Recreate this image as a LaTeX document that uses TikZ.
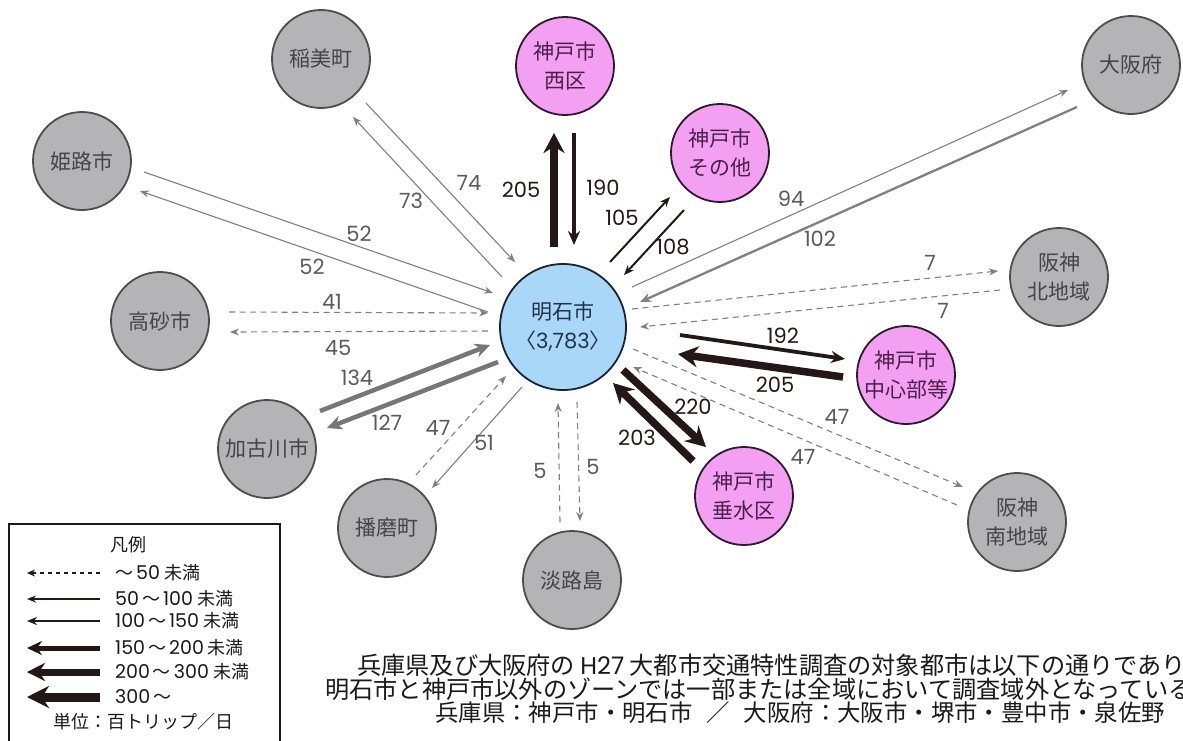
\documentclass[tikz,border=0pt]{standalone}
\usepackage{fontspec}
\setmainfont{Noto Sans CJK JP}
\newfontfamily\nf{Poppins}
\newcommand\nn[1]{{\nf #1}}
\usetikzlibrary{arrows.meta}
\definecolor{gfill}{HTML}{B4B4B6}
\definecolor{gline}{HTML}{4D4D4D}
\definecolor{gtext}{HTML}{454545}
\definecolor{pfill}{HTML}{F4A0F2}
\definecolor{pline}{HTML}{2E1A2E}
\definecolor{ptext}{HTML}{4A1F4A}
\definecolor{bfill}{HTML}{A9D7F7}
\definecolor{bline}{HTML}{1C2233}
\definecolor{btext}{HTML}{22324A}
\definecolor{arrg}{HTML}{808080}
\definecolor{arrb}{HTML}{231815}
\definecolor{lblg}{HTML}{5A5A5A}
\definecolor{txt}{HTML}{1A1A1A}
\tikzset{
  zone/.style={circle, draw, line width=1.8pt, minimum size=98pt, inner sep=0pt, align=center, font=\fontsize{21}{29}\selectfont},
  gz/.style={zone, fill=gfill, draw=gline, text=gtext},
  pz/.style={zone, fill=pfill, draw=pline, text=ptext},
  cz/.style={zone, fill=bfill, draw=bline, text=btext, minimum size=126pt},
  ga/.style={draw=arrg, line width=1.1pt, -{Stealth[length=9pt,width=7pt]}},
  da/.style={ga, dash pattern=on 6pt off 4.5pt},
  ma/.style={draw=arrg, line width=2.3pt, -{Stealth[length=11pt,width=9pt]}},
  ta/.style={draw=arrg!92!black, line width=4.5pt, -{Stealth[length=15pt,width=14pt]}},
  ba/.style={draw=arrb, line width=2pt, -{Stealth[length=10pt,width=8pt]}},
  bb/.style={draw=arrb, line width=3.8pt, -{Stealth[length=14pt,width=12pt]}},
  bc/.style={draw=arrb, line width=7.5pt, -{Stealth[length=20pt,width=21pt]}},
  lg/.style={font=\nf\fontsize{21}{21}\selectfont, text=lblg, inner sep=0pt},
  lb/.style={lg, text=arrb},
  legtxt/.style={anchor=west, font=\fontsize{18}{18}\selectfont, text=txt, inner sep=0pt},
  note/.style={anchor=west, font=\fontsize{24.2}{25}\selectfont, text=txt, inner sep=0pt},
}
\newcommand\legnum[1]{{\nf\fontsize{19}{19}\selectfont #1}}
\begin{document}
\begin{tikzpicture}[x=1pt,y=-1pt]
\path[use as bounding box] (0,0) rectangle (1183,740);
\clip (0,0) rectangle (1183,740);
\fill[white] (0,0) rectangle (1183,740);
% zones
\node[cz] (akashi) at (563,327) {明石市\\〈\nn{3,783}〉};
\node[gz] (inami) at (321,59) {稲美町};
\node[gz] (himeji) at (82,161) {姫路市};
\node[gz] (takasago) at (160,321) {高砂市};
\node[gz] (kakogawa) at (267,449) {加古川市};
\node[gz] (harima) at (387,528) {播磨町};
\node[gz] (awaji) at (572,580) {淡路島};
\node[pz] (nishi) at (565,66) {神戸市\\西区};
\node[pz] (sonota) at (720,153) {神戸市\\その他};
\node[gz] (osaka) at (1131,65) {大阪府};
\node[gz] (hkita) at (1059,277) {阪神\\北地域};
\node[pz] (chushin) at (906,375) {神戸市\\中心部等};
\node[pz] (tarumi) at (744,496) {神戸市\\垂水区};
\node[gz] (hminami) at (1017,522) {阪神\\南地域};
% endpoints
\coordinate (a1) at (366,103); \coordinate (a2) at (515,262);
\coordinate (b1) at (502,277); \coordinate (b2) at (353,117);
\coordinate (c1) at (144,172); \coordinate (c2) at (493,293);
\coordinate (d1) at (488,312); \coordinate (d2) at (140,191);
\coordinate (e1) at (229,312); \coordinate (e2) at (488,313);
\coordinate (f1) at (488,331); \coordinate (f2) at (230,332);
\coordinate (g1) at (320,411); \coordinate (g2) at (490,345);
\coordinate (h1) at (498,362); \coordinate (h2) at (327,428);
\coordinate (i1) at (416,475); \coordinate (i2) at (506,376);
\coordinate (j1) at (522,387); \coordinate (j2) at (432,488);
\coordinate (k1) at (560,522); \coordinate (k2) at (558,403);
\coordinate (l1) at (577,402); \coordinate (l2) at (580,521);
\coordinate (m1) at (554,247); \coordinate (m2) at (554,133);
\coordinate (n1) at (574,133); \coordinate (n2) at (574,245);
\coordinate (o1) at (610,262); \coordinate (o2) at (670,197);
\coordinate (p1) at (684,210); \coordinate (p2) at (624,275);
\coordinate (q1) at (632,287); \coordinate (q2) at (1068,90);
\coordinate (r1) at (1077,107); \coordinate (r2) at (640,302);
\coordinate (s1) at (632,309); \coordinate (s2) at (998,271);
\coordinate (t1) at (1000,290); \coordinate (t2) at (640,327);
\coordinate (u1) at (680,335); \coordinate (u2) at (845,359);
\coordinate (v1) at (843,377); \coordinate (v2) at (678,354);
\coordinate (w1) at (633,349); \coordinate (w2) at (963,487);
\coordinate (x1) at (957,505); \coordinate (x2) at (633,367);
\coordinate (y1) at (623,370); \coordinate (y2) at (706,447);
\coordinate (z1) at (693,461); \coordinate (z2) at (613,383);
% connectors
\draw[ga] (a1) -- (a2); \node[lg] (la) at (469,183) {74};
\draw[ga] (b1) -- (b2); \node[lg] (lb2) at (411,201) {73};
\draw[ga] (c1) -- (c2); \node[lg] (lc) at (359,234) {52};
\draw[ga] (d1) -- (d2); \node[lg] (ld) at (312,267) {52};
\draw[da] (e1) -- (e2); \node[lg] (le) at (332,302) {41};
\draw[da] (f1) -- (f2); \node[lg] (lf) at (338,348) {45};
\draw[ta] (g1) -- (g2); \node[lg] (lgg) at (357,378) {134};
\draw[ta] (h1) -- (h2); \node[lg] (lh) at (387,423) {127};
\draw[da] (i1) -- (i2); \node[lg] (li) at (438,428) {47};
\draw[ga] (j1) -- (j2); \node[lg] (lj) at (484,443) {51};
\draw[da] (k1) -- (k2); \node[lg] (lk) at (540,471) {5};
\draw[da] (l1) -- (l2); \node[lg] (ll) at (593,467) {5};
\draw[bc] (m1) -- (m2); \node[lb] (lm) at (521,190) {205};
\draw[bb] (n1) -- (n2); \node[lb] (ln) at (603,188) {190};
\draw[ba] (o1) -- (o2); \node[lb] (lo) at (622,218) {105};
\draw[ba] (p1) -- (p2); \node[lb] (lp) at (673,247) {108};
\draw[ga] (q1) -- (q2); \node[lg] (lq) at (791,199) {94};
\draw[ma] (r1) -- (r2); \node[lg] (lr) at (820,239) {102};
\draw[da] (s1) -- (s2); \node[lg] (ls) at (930,263) {7};
\draw[da] (t1) -- (t2); \node[lg] (lt) at (943,311) {7};
\draw[bb] (u1) -- (u2); \node[lb] (lu) at (783,336) {192};
\draw[bc] (v1) -- (v2); \node[lb] (lv) at (775,385) {205};
\draw[da] (w1) -- (w2); \node[lg] (lw) at (837,417) {47};
\draw[da] (x1) -- (x2); \node[lg] (lx) at (803,457) {47};
\draw[bc] (y1) -- (y2); \node[lb] (ly) at (693,407) {220};
\draw[bc] (z1) -- (z2); \node[lb] (lz) at (637,438) {203};
% legend
\draw[line width=1.2pt, draw=txt] (9,524) rectangle (280,760);
\node[font=\fontsize{18}{18}\selectfont, text=txt, inner sep=0pt] (legt) at (128,545) {凡例};
\coordinate (r1a) at (100,573); \coordinate (r1b) at (27,573);
\coordinate (r2a) at (100,599); \coordinate (r2b) at (27,599);
\coordinate (r3a) at (100,621); \coordinate (r3b) at (27,621);
\coordinate (r4a) at (100,648); \coordinate (r4b) at (27,648);
\coordinate (r5a) at (100,672); \coordinate (r5b) at (27,672);
\coordinate (r6a) at (100,697); \coordinate (r6b) at (27,697);
\draw[draw=arrb, line width=1.3pt, dash pattern=on 4pt off 4pt, -{Stealth[length=8pt,width=7pt]}] (r1a) -- (r1b);
\draw[draw=arrb, line width=1.4pt, -{Stealth[length=9pt,width=7pt]}] (r2a) -- (r2b);
\draw[draw=arrb, line width=2pt, -{Stealth[length=10pt,width=8pt]}] (r3a) -- (r3b);
\draw[draw=arrb, line width=5pt, -{Stealth[length=15pt,width=14pt]}] (r4a) -- (r4b);
\draw[draw=arrb, line width=7pt, -{Stealth[length=18pt,width=18pt]}] (r5a) -- (r5b);
\draw[draw=arrb, line width=9pt, -{Stealth[length=22pt,width=22pt]}] (r6a) -- (r6b);
\node[legtxt] (t1l) at (115,573) {～\,\legnum{50} 未満};
\node[legtxt] (t2l) at (115,599) {\legnum{50}\,～\,\legnum{100} 未満};
\node[legtxt] (t3l) at (115,621) {\legnum{100}\,～\,\legnum{150} 未満};
\node[legtxt] (t4l) at (115,648) {\legnum{150}\,～\,\legnum{200} 未満};
\node[legtxt] (t5l) at (115,672) {\legnum{200}\,～\,\legnum{300} 未満};
\node[legtxt] (t6l) at (115,697) {\legnum{300}\,～};
\node[font=\fontsize{18}{18}\selectfont, text=txt, inner sep=0pt] (unit) at (143,722) {単位：百トリップ／日};
% note
\node[note] (n1l) at (357,665) {兵庫県及び大阪府の \nn{H27} 大都市交通特性調査の対象都市は以下の通りであり};
\node[note] (n2l) at (325,689) {明石市と神戸市以外のゾーンでは一部または全域において調査域外となっている};
\node[note, font=\fontsize{23.4}{25}\selectfont] (n3l) at (435,713) {兵庫県：神戸市・明石市\hspace{14pt}／\hspace{14pt}大阪府：大阪市・堺市・豊中市・泉佐野};
\end{tikzpicture}
\end{document}
